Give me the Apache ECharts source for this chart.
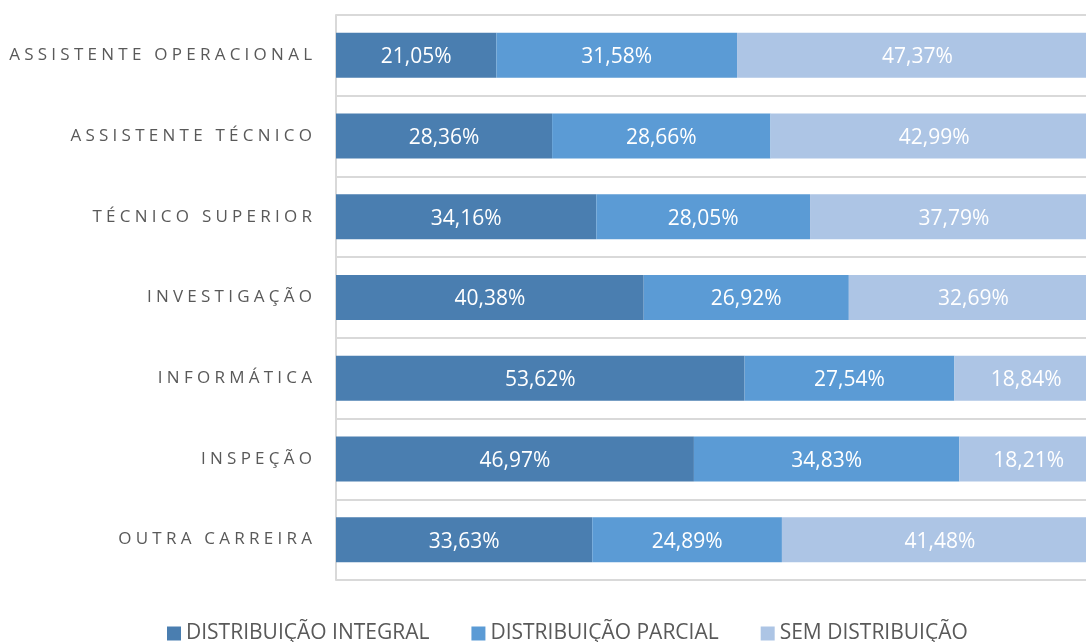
<!DOCTYPE html>
<html>
<head>
<meta charset="utf-8">
<script src="https://cdn.jsdelivr.net/npm/echarts@6/dist/echarts.min.js"></script>
<style>
  html, body { margin: 0; padding: 0; background: #fff; }
  #main { width: 1086px; height: 642px; }
</style>
</head>
<body>
<div id="main"></div>
<script>
// categorias (de cima para baixo)
const categories = ['ASSISTENTE OPERACIONAL', 'ASSISTENTE TÉCNICO', 'TÉCNICO SUPERIOR', 'INVESTIGAÇÃO', 'INFORMÁTICA', 'INSPEÇÃO', 'OUTRA CARREIRA'];
const seriesNames = ['DISTRIBUIÇÃO INTEGRAL', 'DISTRIBUIÇÃO PARCIAL', 'SEM DISTRIBUIÇÃO'];
const integral = [21.05, 28.36, 34.16, 40.38, 53.62, 46.97, 33.63];
const parcial = [31.58, 28.66, 28.05, 26.92, 27.54, 34.83, 24.89];
const semDist = [47.37, 42.99, 37.79, 32.69, 18.84, 18.21, 41.48];

const colors = ['#4A7EB0', '#5B9BD5', '#ADC5E5'];
const font = '"Open Sans", "Liberation Sans", sans-serif';

// espaçamento entre letras como no original
const spaced = s => s.split('').join('\u2005');

const fmt = p => p.value.toFixed(2).replace('.', ',') + '%';

const mkSeries = (name, data, i) => ({
  name: name,
  type: 'bar',
  stack: 'total',
  barWidth: 45,
  data: data,
  itemStyle: { color: colors[i] },
  label: {
    show: true,
    position: 'inside',
    offset: [0, 2],
    color: '#fff',
    fontSize: 21,
    fontFamily: font,
    formatter: fmt
  }
});

let myChart = echarts.init(document.getElementById('main'));
myChart.setOption({
  animation: false,
  // a área do gráfico continua para lá da margem direita (cortada no original)
  grid: { left: 336, right: -12, top: 15, bottom: 62, outerBoundsMode: 'none' },
  legend: {
    bottom: -7,
    left: 162,
    itemWidth: 14,
    itemHeight: 14,
    itemGap: 42,
    icon: 'rect',
    textStyle: { color: '#595959', fontSize: 21, fontFamily: font },
    data: seriesNames
  },
  xAxis: {
    type: 'value',
    min: 0,
    max: 100,
    show: false
  },
  yAxis: {
    type: 'category',
    inverse: true,
    data: categories,
    axisLine: { show: true, lineStyle: { color: '#D9D9D9', width: 2 } },
    axisTick: { show: false },
    splitLine: { show: true, lineStyle: { color: '#D9D9D9', width: 2 } },
    axisLabel: {
      color: '#595959',
      fontSize: 17,
      fontFamily: font,
      margin: 24,
      formatter: v => spaced(v)
    }
  },
  series: [
    mkSeries(seriesNames[0], integral, 0),
    mkSeries(seriesNames[1], parcial, 1),
    mkSeries(seriesNames[2], semDist, 2)
  ]
});
</script>
</body>
</html>
